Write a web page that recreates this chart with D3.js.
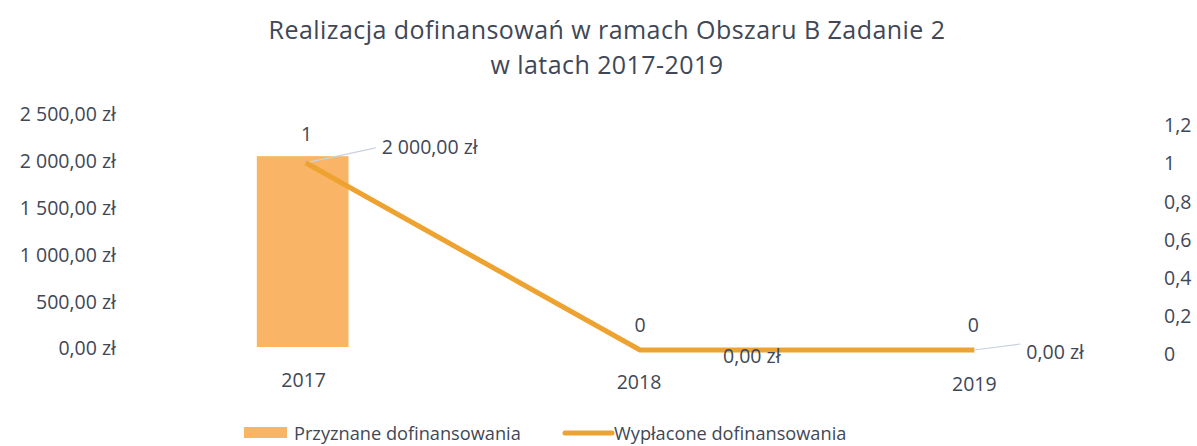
<!DOCTYPE html>
<html>
<head>
<meta charset="utf-8">
<script src="https://cdn.jsdelivr.net/npm/d3@7"></script>
<style>
  body { margin: 0; background: #fff; }
  svg text { font-family: "Open Sans", sans-serif; fill: #404756; }
</style>
</head>
<body>
<div id="chart"></div>
<script>
// data
var years = ["2017", "2018", "2019"];
var granted = [1, 0, 0]; // Przyznane dofinansowania (right axis, count)
var paid = [2000, 0, 0]; // Wypłacone dofinansowania (left axis, zł)
var leftTicks = [0, 500, 1000, 1500, 2000, 2500];
var rightTicks = [0, 0.2, 0.4, 0.6, 0.8, 1, 1.2];
var titleLines = ["Realizacja dofinansowań w ramach Obszaru B Zadanie 2", "w latach 2017-2019"];
var seriesNames = ["Przyznane dofinansowania", "Wypłacone dofinansowania"];

var barColor = "#f9b466";
var lineColor = "#eea22f";

const width = 1197;
const height = 446;

var svg = d3.select("#chart").append("svg")
  .attr("width", width)
  .attr("height", height);

// title
svg.selectAll("text.title")
  .data(titleLines)
  .enter()
  .append("text")
  .attr("class", "title")
  .attr("x", 607)
  .attr("y", (d, i) => 39 + i * 35)
  .attr("text-anchor", "middle")
  .style("font-size", "25px")
  .style("letter-spacing", "0.45px")
  .text(d => d);

// scales
var x = d3.scaleBand().domain(years).range([137, 1137]);
var yLeft = d3.scaleLinear().domain([0, 2500]).range([348, 114]);
var yRight = d3.scaleLinear().domain([0, 1.2]).range([354, 125]);

function pln(v) {
  // polish money format: 2 000,00 zł
  var s = d3.format(",.2f")(v);
  return s.replace(/,/g, " ").replace(".", ",") + " zł";
}
function dec(v) {
  return String(v).replace(".", ",");
}

var numSize = "19.5px";

// left axis
var leftAxis = svg.append("g")
  .attr("transform", "translate(116,0)")
  .call(d3.axisLeft(yLeft).tickValues(leftTicks).tickFormat(pln).tickSize(0).tickPadding(0));
leftAxis.select(".domain").remove();
leftAxis.selectAll("text").style("font-size", numSize).attr("fill", "#404756").attr("dy", "0.35em");

// right axis
var rightAxis = svg.append("g")
  .attr("transform", "translate(1164,0)")
  .call(d3.axisRight(yRight).tickValues(rightTicks).tickFormat(dec).tickSize(0).tickPadding(0));
rightAxis.select(".domain").remove();
rightAxis.selectAll("text").style("font-size", numSize).attr("fill", "#404756").attr("dy", "0.35em");

// category labels
svg.append("g")
  .selectAll("text")
  .data(years)
  .enter()
  .append("text")
  .attr("x", (d, i) => x(d) + x.bandwidth() / 2 + i * 2)
  .attr("y", (d, i) => 387 + i * 2)
  .attr("text-anchor", "middle")
  .style("font-size", numSize)
  .text(d => d);

// bars
var barW = x.bandwidth() * 0.275;
svg.append("g")
  .selectAll("rect")
  .data(granted)
  .enter()
  .append("rect")
  .attr("x", (d, i) => x(years[i]) + x.bandwidth() / 2 - barW / 2 - 1)
  .attr("y", d => yRight(d) - 7)
  .attr("width", barW)
  .attr("height", d => Math.max(0, yRight(0) - yRight(d)))
  .attr("fill", barColor);

// bar labels
svg.append("g")
  .selectAll("text")
  .data(granted)
  .enter()
  .append("text")
  .attr("x", (d, i) => x(years[i]) + x.bandwidth() / 2 + 3)
  .attr("y", d => yRight(d) - 22)
  .attr("text-anchor", "middle")
  .style("font-size", numSize)
  .text(d => dec(d));

// line
var px = (d, i) => x(years[i]) + x.bandwidth() / 2 + 2 + i;
var line = d3.line()
  .x(px)
  .y(d => yLeft(d) + 2);

// leader lines for line labels
var leaders = [[70, -15], [0, 0], [46, -6]];
svg.append("g")
  .selectAll("line")
  .data(paid)
  .enter()
  .append("line")
  .attr("x1", px)
  .attr("y1", d => yLeft(d) + 2)
  .attr("x2", (d, i) => px(d, i) + leaders[i][0])
  .attr("y2", (d, i) => yLeft(d) + 2 + leaders[i][1])
  .attr("stroke", "#c9d2de")
  .attr("stroke-width", 1.2);

svg.append("path")
  .datum(paid)
  .attr("fill", "none")
  .attr("stroke", lineColor)
  .attr("stroke-width", 5)
  .attr("stroke-linejoin", "round")
  .attr("d", line);

// line labels
var labelOffsets = [[76, -7], [83, 15], [52, 11]];
svg.append("g")
  .selectAll("text")
  .data(paid)
  .enter()
  .append("text")
  .attr("x", (d, i) => px(d, i) + labelOffsets[i][0])
  .attr("y", (d, i) => yLeft(d) + labelOffsets[i][1])
  .style("font-size", numSize)
  .text(d => pln(d));

// legend
var legend = svg.append("g");
legend.append("rect")
  .attr("x", 244).attr("y", 427).attr("width", 43).attr("height", 11)
  .attr("fill", barColor);
legend.append("text")
  .attr("x", 294).attr("y", 440)
  .style("font-size", "18.2px")
  .text(seriesNames[0]);
legend.append("line")
  .attr("x1", 565).attr("y1", 433).attr("x2", 612).attr("y2", 433)
  .attr("stroke", lineColor).attr("stroke-width", 5).attr("stroke-linecap", "round");
legend.append("text")
  .attr("x", 614).attr("y", 440)
  .style("font-size", "18.2px")
  .text(seriesNames[1]);
</script>
</body>
</html>
